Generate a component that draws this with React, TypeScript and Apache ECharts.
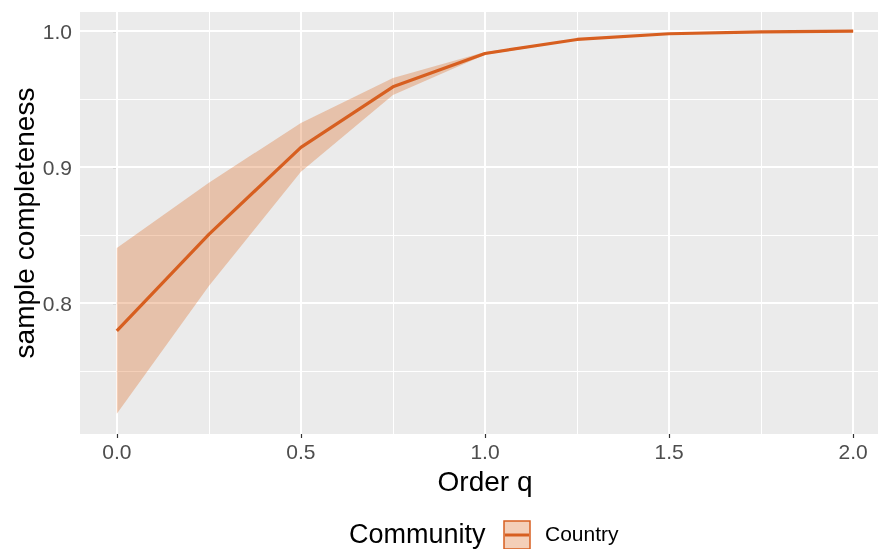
import React, { useEffect, useRef } from "react";
import * as echarts from "echarts";

const orderQ = [0, 0.25, 0.5, 0.75, 1.0, 1.25, 1.5, 1.75, 2.0];
const estimate = [0.7795, 0.8505, 0.9145, 0.959, 0.9835, 0.9938, 0.998, 0.9994, 0.9999];
const lowerCI = [0.7185, 0.8125, 0.8966, 0.953, 0.9825, 0.9934, 0.9977, 0.9992, 0.9998];
const upperCI = [0.8405, 0.8885, 0.9324, 0.9655, 0.9846, 0.9942, 0.9983, 0.9996, 1.0];

const xTickValues = [0, 0.5, 1.0, 1.5, 2.0];
const xMinorValues = [0.25, 0.75, 1.25, 1.75];
const yTickValues = [0.8, 0.9, 1.0];
const yMinorValues = [0.75, 0.85, 0.95];

const seriesName = "Country";
const legendTitle = "Community";
const xTitle = "Order q";
const yTitle = "sample completeness";

const FONT = "'Liberation Sans', Arial, Helvetica, sans-serif";
const LINE_COLOR = "#D75F20";
const BAND_COLOR = "rgba(217,95,20,0.3)";

export default function App() {
  const ref = useRef<HTMLDivElement>(null);

  useEffect(() => {
    if (!ref.current) return;
    const chart = echarts.init(ref.current, null, { renderer: "svg" });

    const gridLineData = [
      ...xTickValues.map((v) => ({ xAxis: v, lineStyle: { width: 2 } })),
      ...xMinorValues.map((v) => ({ xAxis: v, lineStyle: { width: 1 } })),
      ...yTickValues.map((v) => ({ yAxis: v, lineStyle: { width: 2 } })),
      ...yMinorValues.map((v) => ({ yAxis: v, lineStyle: { width: 1 } })),
    ];

    chart.setOption({
      animation: false,
      grid: {
        left: 80,
        right: 0,
        top: 12,
        bottom: 115,
        show: true,
        backgroundColor: "#EBEBEB",
        borderWidth: 0,
        containLabel: false,
        outerBoundsMode: "none",
      },
      xAxis: {
        type: "value",
        min: -0.1,
        max: 2.1,
        name: xTitle,
        nameLocation: "middle",
        nameGap: 33,
        nameTextStyle: { fontFamily: FONT, fontSize: 28, color: "#000" },
        axisLine: { show: false },
        splitLine: { show: false },
        axisTick: {
          show: true,
          length: 4,
          lineStyle: { color: "#333", width: 1.2 },
          customValues: xTickValues,
        },
        axisLabel: {
          customValues: xTickValues,
          margin: 7,
          fontFamily: FONT,
          fontSize: 21,
          color: "#4D4D4D",
          formatter: (v: number) => v.toFixed(1),
        },
      },
      yAxis: {
        type: "value",
        min: 0.7037,
        max: 1.014,
        name: yTitle,
        nameLocation: "middle",
        nameGap: 42,
        nameMoveOverlap: false,
        nameRotate: 90,
        nameTextStyle: { fontFamily: FONT, fontSize: 28, color: "#000" },
        axisLine: { show: false },
        splitLine: { show: false },
        axisTick: {
          show: true,
          length: 4,
          lineStyle: { color: "#333", width: 1.2 },
          customValues: yTickValues,
        },
        axisLabel: {
          customValues: yTickValues,
          margin: 8,
          fontFamily: FONT,
          fontSize: 21,
          color: "#4D4D4D",
          formatter: (v: number) => v.toFixed(1),
        },
      },
      series: [
        {
          name: "grid",
          type: "line",
          data: [],
          z: 1,
          silent: true,
          markLine: {
            z: 1,
            silent: true,
            symbol: "none",
            label: { show: false },
            lineStyle: { color: "#FFFFFF", type: "solid" },
            emphasis: { disabled: true },
            data: gridLineData,
          },
        },
        {
          name: "band",
          type: "custom",
          z: 2,
          silent: true,
          data: orderQ.map((q, i) => [q, lowerCI[i], upperCI[i]]),
          encode: { x: 0, y: [1, 2] },
          renderItem: (params: any, api: any) => {
            if (params.dataIndex !== 0) return null;
            const upperPts = orderQ.map((q, i) => api.coord([q, upperCI[i]]));
            const lowerPts = orderQ
              .map((q, i) => api.coord([q, lowerCI[i]]))
              .reverse();
            return {
              type: "polygon",
              shape: { points: upperPts.concat(lowerPts) },
              style: { fill: BAND_COLOR, stroke: "none" },
            };
          },
        },
        {
          name: seriesName,
          type: "line",
          z: 3,
          symbol: "none",
          silent: true,
          lineStyle: { color: LINE_COLOR, width: 3.2 },
          data: orderQ.map((q, i) => [q, estimate[i]]),
        },
      ],
      graphic: [
        {
          type: "text",
          left: 349,
          top: 520,
          style: {
            text: legendTitle,
            fontFamily: FONT,
            fontSize: 27,
            fill: "#000",
          },
        },
        {
          type: "rect",
          shape: { x: 504, y: 521, width: 26, height: 28 },
          style: { fill: BAND_COLOR, stroke: LINE_COLOR, lineWidth: 1.5 },
        },
        {
          type: "line",
          shape: { x1: 505, y1: 535, x2: 529, y2: 535 },
          style: { stroke: LINE_COLOR, lineWidth: 3 },
        },
        {
          type: "text",
          left: 545,
          top: 523,
          style: {
            text: seriesName,
            fontFamily: FONT,
            fontSize: 21,
            fill: "#000",
          },
        },
      ],
    });

    return () => chart.dispose();
  }, []);

  return (
    <div
      ref={ref}
      style={{ position: "fixed", left: 0, top: 0, width: 890, height: 549 }}
    />
  );
}
